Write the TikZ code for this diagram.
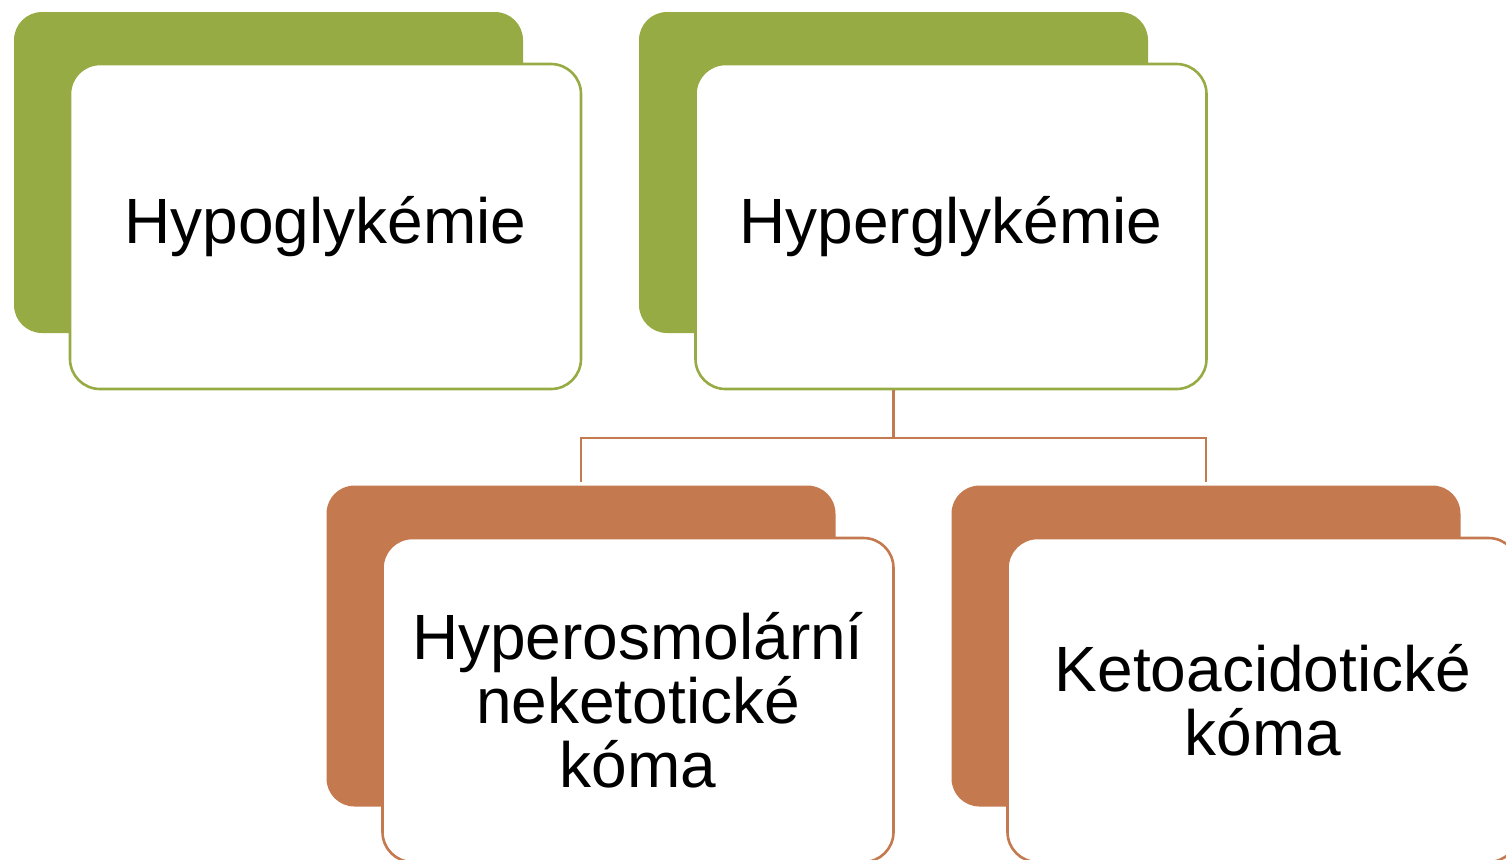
\documentclass[tikz,border=0pt]{standalone}
\usepackage{fontspec}
\setmainfont{Liberation Sans}
\definecolor{olivegreen}{RGB}{151,171,69}
\definecolor{rust}{RGB}{196,121,79}
\begin{document}
\begin{tikzpicture}[x=0.5pt,y=-0.5pt,
  backbox/.style={rounded corners=14pt, minimum width=254.5pt, minimum height=160.5pt, inner sep=0pt, draw=none},
  frontbox/.style={rounded corners=15pt, minimum width=255.5pt, minimum height=162.5pt, inner sep=0pt, fill=white, line width=1.3pt, align=center, font=\fontsize{32}{32}\selectfont},
  link/.style={draw=rust, line width=1.1pt}
]
\useasboundingbox (0,0) rectangle (1506,859);
\clip (0,0) rectangle (1506,859);
% level 1
\node[backbox, fill=olivegreen] (b1) at (268.5,172.5) {};
\node[frontbox, draw=olivegreen] (w1) at (325.5,226.5) {Hypoglykémie};
\node[backbox, fill=olivegreen] (b2) at (893.5,172.5) {};
\node[frontbox, draw=olivegreen] (w2) at (951,226.5) {Hyperglykémie};
% level 2
\node[backbox, fill=rust] (b3) at (581,646) {};
\node[frontbox, draw=rust, minimum height=162pt] (w3) at (638,700) {Hyperosmolární\\neketotické\\kóma};
\node[backbox, fill=rust] (b4) at (1206,646) {};
\node[frontbox, draw=rust, minimum height=162pt] (w4) at (1263,700) {Ketoacidotické\\kóma};
% connectors
\coordinate (top) at (b2 |- w2.south);
\coordinate (mid) at ([yshift=-24pt]top);
\draw[link] (top) -- (mid) -| ([yshift=1.5pt]b3.north);
\draw[link] (mid) -| ([yshift=1.5pt]b4.north);
\end{tikzpicture}
\end{document}
